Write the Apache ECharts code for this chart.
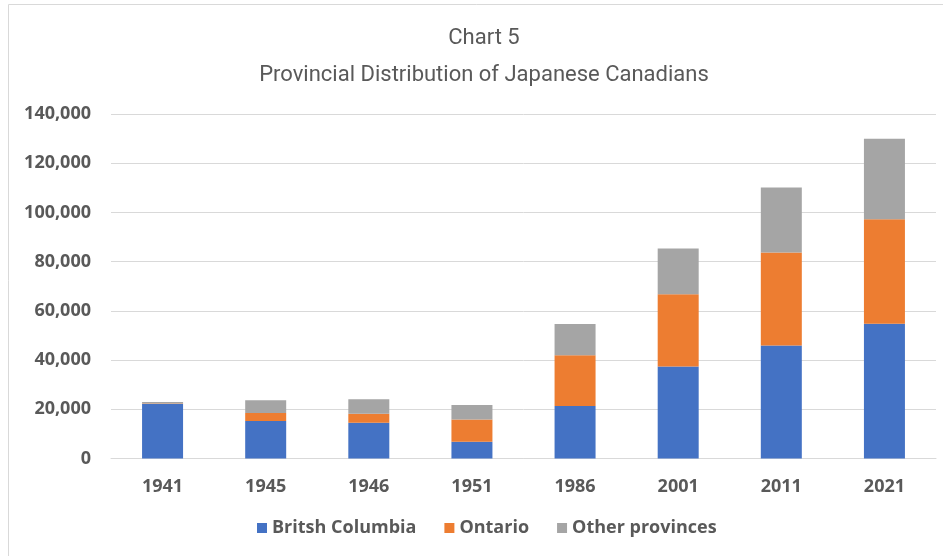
<!DOCTYPE html>
<html>
<head>
<meta charset="utf-8">
<script src="https://cdn.jsdelivr.net/npm/echarts@6/dist/echarts.min.js"></script>
<style>
  html, body { margin: 0; padding: 0; background: #fff; }
  #chart { width: 943px; height: 556px; }
</style>
</head>
<body>
<div id="chart"></div>
<script>
// census years and provincial counts
const years = ['1941', '1945', '1946', '1951', '1986', '2001', '2011', '2021']
const britishColumbia = [22100, 15200, 14500, 6800, 21300, 37400, 45900, 54800]
const ontario = [300, 3300, 3700, 9000, 20700, 29300, 37800, 42400]
const otherProvinces = [600, 5200, 5900, 5900, 12700, 18600, 26400, 32700]

const textColor = '#595959'
const gridColor = '#d9d9d9'

const chart = echarts.init(document.getElementById('chart'))

function barSeries(name, data, color) {
  return {
    name,
    type: 'bar',
    stack: 'total',
    data,
    barWidth: 41,
    itemStyle: { color },
    emphasis: { disabled: true },
  }
}

const titleStyle = {
  fontFamily: '"Roboto", "Open Sans", sans-serif',
  fontSize: 22, fontWeight: 'normal', color: textColor,
}

chart.setOption({
  animation: false,
  textStyle: { fontFamily: '"Open Sans", "Liberation Sans", sans-serif' },
  graphic: [{
    type: 'rect',
    shape: { x: 8.5, y: 4.5, width: 960, height: 580 },
    style: { fill: 'none', stroke: gridColor, lineWidth: 1 },
    silent: true,
  }],
  title: [
    { text: 'Chart 5', left: 479, textAlign: 'center', top: 22, textStyle: titleStyle },
    { text: 'Provincial Distribution of Japanese Canadians', left: 479, textAlign: 'center', top: 59, textStyle: titleStyle },
  ],
  legend: {
    bottom: 14,
    left: 252,
    itemWidth: 10,
    itemHeight: 10,
    itemGap: 28,
    icon: 'rect',
    textStyle: { fontSize: 18, fontWeight: 'bold', color: textColor },
    data: ['Britsh Columbia', 'Ontario', 'Other provinces'],
  },
  grid: { left: 111, right: 7, top: 114, bottom: 97.5 },
  xAxis: {
    type: 'category',
    data: years,
    axisLine: { lineStyle: { color: gridColor } },
    axisTick: { show: false },
    axisLabel: { fontSize: 18, fontWeight: 'bold', color: textColor, margin: 19 },
  },
  yAxis: {
    type: 'value',
    min: 0,
    max: 140000,
    interval: 20000,
    axisLine: { show: false },
    axisTick: { show: false },
    splitLine: { lineStyle: { color: gridColor } },
    axisLabel: {
      fontSize: 18, fontWeight: 'bold', color: textColor, margin: 20,
      formatter: v => v.toLocaleString('en-US'),
    },
  },
  series: [
    barSeries('Britsh Columbia', britishColumbia, '#4472C4'),
    barSeries('Ontario', ontario, '#ED7D31'),
    barSeries('Other provinces', otherProvinces, '#A5A5A5'),
  ],
})
</script>
</body>
</html>
